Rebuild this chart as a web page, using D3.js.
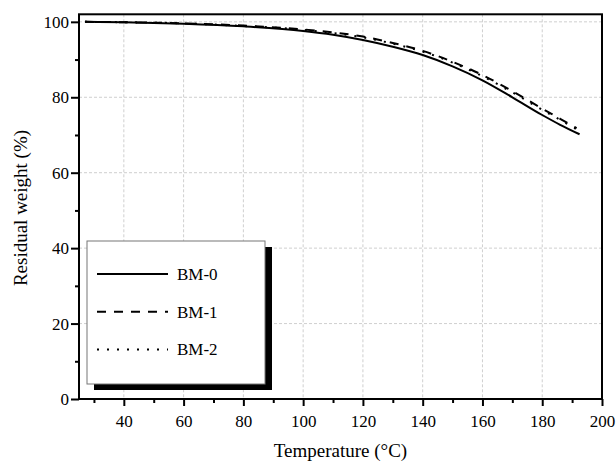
<!DOCTYPE html>
<html>
<head>
<meta charset="utf-8">
<script src="https://cdn.jsdelivr.net/npm/d3@7"></script>
<style>
  body { margin: 0; background: #fff; }
  text { font-family: "Liberation Serif", "Times New Roman", serif; fill: #000; }
</style>
</head>
<body>
<script>
// data
const temps0 = [27, 40, 60, 80, 100, 110, 120, 130, 140, 150, 160, 170, 180, 186, 192.5];
const bm0 = [100, 99.9, 99.5, 98.8, 97.6, 96.6, 95.2, 93.4, 91.2, 88.2, 84.5, 80.0, 75.3, 72.7, 70.2];
const temps1 = [27, 40, 60, 80, 100, 110, 120, 130, 140, 150, 160, 170, 180, 186, 191.5];
const bm1 = [100, 99.9, 99.6, 99.0, 98.0, 97.2, 96.1, 94.4, 92.3, 89.4, 85.9, 81.6, 77.0, 74.3, 71.8];
const bm2 = [100, 99.9, 99.6, 98.9, 97.9, 97.0, 95.9, 94.2, 92.1, 89.2, 85.6, 81.3, 76.7, 74.0, 71.5];
const seriesNames = ["BM-0", "BM-1", "BM-2"];
const xTicks = [40, 60, 80, 100, 120, 140, 160, 180, 200];
const yTicks = [0, 20, 40, 60, 80, 100];

const svgWidth = 616, svgHeight = 465;
const plotLeft = 79, plotRight = 602, plotTop = 14.3, plotBottom = 399;

const svg = d3.select("body").append("svg")
  .attr("width", svgWidth)
  .attr("height", svgHeight);

const x = d3.scaleLinear().domain([25, 200]).range([plotLeft, plotRight]);
const y = d3.scaleLinear().domain([0, 102]).range([plotBottom, plotTop]);

// grid lines
xTicks.filter(d => d < 200).forEach(d => {
  svg.append("line")
    .attr("x1", x(d)).attr("x2", x(d))
    .attr("y1", plotTop).attr("y2", plotBottom)
    .style("stroke", "#cfcfcf")
    .style("stroke-dasharray", "3,2")
    .style("stroke-width", 1);
});
yTicks.filter(d => d > 0).forEach(d => {
  svg.append("line")
    .attr("x1", plotLeft).attr("x2", plotRight)
    .attr("y1", y(d)).attr("y2", y(d))
    .style("stroke", "#cfcfcf")
    .style("stroke-dasharray", "3,2")
    .style("stroke-width", 1);
});

// curves
const line = d3.line().curve(d3.curveMonotoneX);
const series = [
  {t: temps0, v: bm0, dash: null},
  {t: temps1, v: bm1, dash: "9,8"},
  {t: temps1, v: bm2, dash: "2,8"}
];
series.forEach(s => {
  svg.append("path")
    .attr("d", line(s.t.map((t, i) => [x(t), y(s.v[i])])))
    .attr("fill", "none")
    .attr("stroke", "#000")
    .attr("stroke-width", 2)
    .attr("stroke-dasharray", s.dash);
});

// axes
const xAxis = d3.axisBottom(x).tickValues(xTicks).tickSize(7).tickPadding(9).tickFormat(d3.format("d"));
const xMinor = d3.axisBottom(x).tickValues(d3.range(30, 200, 20)).tickSize(4).tickFormat("");
const yAxis = d3.axisLeft(y).tickValues(yTicks).tickSize(8).tickPadding(2).tickFormat(d3.format("d"));
const yMinor = d3.axisLeft(y).tickValues(d3.range(10, 100, 20)).tickSize(4).tickFormat("");

function styleAxis(g) {
  g.select(".domain").remove();
  g.selectAll("line").attr("stroke", "#000").attr("stroke-width", 2);
  g.selectAll("text").style("font-family", "Liberation Serif, serif").style("font-size", "17px").attr("fill", "#000");
}

svg.append("g").attr("transform", "translate(0," + plotBottom + ")").call(xAxis).call(styleAxis);
svg.append("g").attr("transform", "translate(0," + plotBottom + ")").call(xMinor).call(styleAxis);
svg.append("g").attr("transform", "translate(" + plotLeft + ",0)").call(yAxis).call(styleAxis);
svg.append("g").attr("transform", "translate(" + plotLeft + ",0)").call(yMinor).call(styleAxis);

// frame
svg.append("rect")
  .attr("x", plotLeft).attr("y", plotTop)
  .attr("width", plotRight - plotLeft).attr("height", plotBottom - plotTop)
  .attr("fill", "none")
  .attr("stroke", "#000")
  .attr("stroke-width", 2);

// legend with drop shadow
const lg = {x: 87, y: 241, w: 178, h: 143};
svg.append("rect")
  .attr("x", lg.x + 7).attr("y", lg.y + 6)
  .attr("width", lg.w).attr("height", lg.h)
  .attr("fill", "#000");
svg.append("rect")
  .attr("x", lg.x).attr("y", lg.y)
  .attr("width", lg.w).attr("height", lg.h)
  .attr("fill", "#fff")
  .attr("stroke", "#777")
  .attr("stroke-width", 1);
seriesNames.forEach((name, i) => {
  const ly = 274 + i * 37.7;
  svg.append("line")
    .attr("x1", 97).attr("x2", 168)
    .attr("y1", ly).attr("y2", ly)
    .attr("stroke", "#000")
    .attr("stroke-width", 2)
    .attr("stroke-dasharray", series[i].dash);
  svg.append("text")
    .attr("x", 177).attr("y", ly + 6)
    .style("font-size", "17px")
    .text(name);
});

// axis titles
svg.append("text")
  .attr("x", (plotLeft + plotRight) / 2).attr("y", 457)
  .attr("text-anchor", "middle")
  .style("font-size", "19px")
  .text("Temperature (°C)");
svg.append("text")
  .attr("transform", "translate(27," + 208 + ") rotate(-90)")
  .attr("text-anchor", "middle")
  .style("font-size", "19px")
  .text("Residual weight (%)");
</script>
</body>
</html>
